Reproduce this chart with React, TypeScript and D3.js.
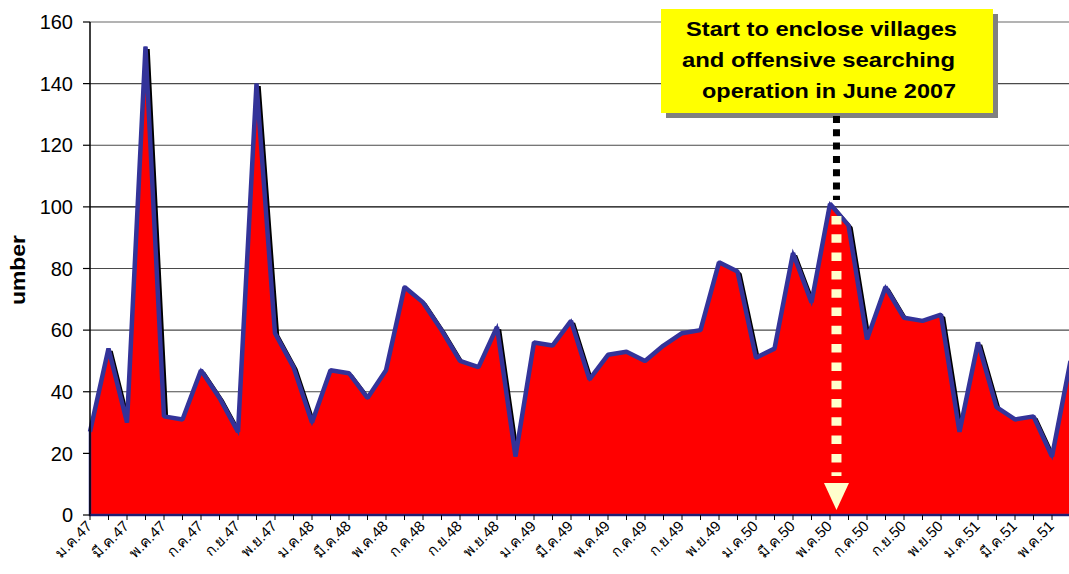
import React from 'react';
import * as d3 from 'd3';

const categories: string[] = [
  'ม.ค.47','ก.พ.47','มี.ค.47','เม.ย.47','พ.ค.47','มิ.ย.47','ก.ค.47','ส.ค.47','ก.ย.47','ต.ค.47','พ.ย.47','ธ.ค.47',
  'ม.ค.48','ก.พ.48','มี.ค.48','เม.ย.48','พ.ค.48','มิ.ย.48','ก.ค.48','ส.ค.48','ก.ย.48','ต.ค.48','พ.ย.48','ธ.ค.48',
  'ม.ค.49','ก.พ.49','มี.ค.49','เม.ย.49','พ.ค.49','มิ.ย.49','ก.ค.49','ส.ค.49','ก.ย.49','ต.ค.49','พ.ย.49','ธ.ค.49',
  'ม.ค.50','ก.พ.50','มี.ค.50','เม.ย.50','พ.ค.50','มิ.ย.50','ก.ค.50','ส.ค.50','ก.ย.50','ต.ค.50','พ.ย.50','ธ.ค.50',
  'ม.ค.51','ก.พ.51','มี.ค.51','เม.ย.51','พ.ค.51','มิ.ย.51',
];

const values: number[] = [
  27, 54, 30, 152, 32, 31, 47, 38, 27, 140, 59, 48,
  30, 47, 46, 38, 47, 74, 69, 60, 50, 48, 61, 19,
  56, 55, 63, 44, 52, 53, 50, 55, 59, 60, 82, 79,
  51, 54, 85, 69, 101, 94, 57, 74, 64, 63, 65, 27,
  56, 35, 31, 32, 19, 50,
];

const yTicks: number[] = [0, 20, 40, 60, 80, 100, 120, 140, 160];

const annotationLines: string[] = [
  'Start to enclose villages',
  'and offensive searching ',
  ' operation in June 2007',
];

const W = 1069;
const H = 574;
const left = 90;
const step = 18.5;
const top = 22;
const bottom = 515;
const arrowIndex = 40.35;

export default function App() {
  const x = d3.scaleLinear().domain([0, categories.length - 1]).range([left, left + step * (categories.length - 1)]);
  const y = d3.scaleLinear().domain([0, 160]).range([bottom, top]);

  const area = d3.area<number>().x((_, i) => x(i)).y0(y(0)).y1((d) => y(d));
  const line = d3.line<number>().x((_, i) => x(i)).y((d) => y(d));

  const gridColor = (v: number) => (v === 160 ? '#9a9a9a' : v === 100 ? '#000' : '#4a4a4a');
  const ax = x(arrowIndex);
  const lineX = [686, 682, 702];
  const lineLen = [271, 273, 254];
  const lineY = [36, 67, 98];

  return (
    <div style={{ position: 'absolute', left: 0, top: 0 }}>
      <svg width={W} height={H} style={{ display: 'block', background: '#fff', fontFamily: 'Arial, "Liberation Sans", sans-serif' }}>
        {yTicks.filter((v) => v > 0).map((v) => (
          <line key={v} x1={left} x2={W} y1={y(v)} y2={y(v)} stroke={gridColor(v)} strokeWidth={v === 160 ? 1.5 : 1.2} />
        ))}
        <path d={line(values) || ''} fill="none" stroke="#000" strokeWidth={3.5} transform="translate(2.5,2.5)" strokeLinejoin="bevel" />
        <path d={area(values) || ''} fill="#ff0000" stroke="#333399" strokeWidth={2.5} />
        <path d={line(values) || ''} fill="none" stroke="#333399" strokeWidth={4.5} strokeLinejoin="bevel" />
        <line x1={left} x2={left} y1={top} y2={bottom} stroke="#000" strokeWidth={1.5} />
        {yTicks.map((v) => (
          <g key={v}>
            <line x1={83} x2={left} y1={y(v)} y2={y(v)} stroke="#000" strokeWidth={1.2} />
            <text x={73} y={y(v)} dy="0.36em" textAnchor="end" fontSize={20} fill="#000">{v}</text>
          </g>
        ))}
        <line x1={left} x2={W} y1={bottom} y2={bottom} stroke="#1a1a66" strokeWidth={1.5} />
        {categories.map((c, i) => (
          <line key={'t' + i} x1={x(i)} x2={x(i)} y1={bottom} y2={bottom + 5} stroke="#000" strokeWidth={1} />
        ))}
        {categories.map((c, i) =>
          i % 2 === 0 ? (
            <text key={'l' + i} transform={`translate(${x(i) + 3},${bottom + 12}) rotate(-45)`} textAnchor="end" fontSize={15} fill="#000">
              {c}
            </text>
          ) : null
        )}
        <text transform="translate(25,270) rotate(-90)" textAnchor="middle" fontSize={20} fontWeight="bold" textLength={70} lengthAdjust="spacingAndGlyphs">umber</text>
        <rect x={666} y={14} width={332} height={104} fill="#808080" />
        <rect x={661} y={9} width={332} height={104} fill="#ffff00" />
        {annotationLines.map((t, i) => (
          <text key={i} x={lineX[i]} y={lineY[i]} fontSize={21} fontWeight="bold" fill="#000" textLength={lineLen[i]} lengthAdjust="spacingAndGlyphs">
            {t.trim()}
          </text>
        ))}
        <line x1={ax} x2={ax} y1={116} y2={200} stroke="#000" strokeWidth={7} strokeDasharray="7,6.3" />
        <line x1={ax} x2={ax} y1={216} y2={476} stroke="#ffffcc" strokeWidth={10} strokeDasharray="8.5,9.8" />
        <path d={`M${ax - 12.5},${483} L${ax + 12.5},${483} L${ax},${510} Z`} fill="#ffffcc" />
      </svg>
    </div>
  );
}
